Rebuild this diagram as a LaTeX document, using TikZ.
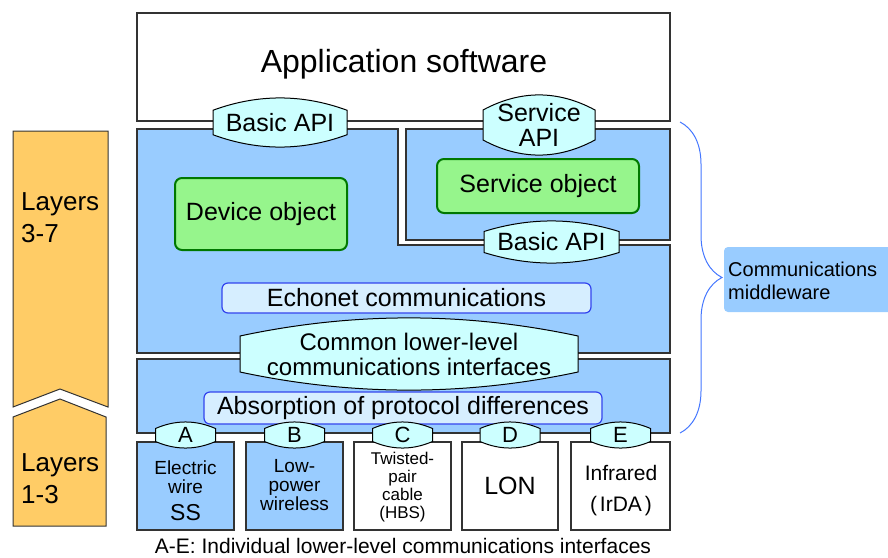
\documentclass[tikz,border=0pt]{standalone}
\usepackage{fontspec}
\setmainfont{Liberation Sans}
\usetikzlibrary{decorations.pathreplacing}
\definecolor{midblue}{RGB}{153,204,255}
\definecolor{procfill}{RGB}{214,238,255}
\definecolor{procline}{RGB}{51,68,238}
\definecolor{hexfill}{RGB}{204,255,255}
\definecolor{objfill}{RGB}{150,245,140}
\definecolor{objline}{RGB}{0,120,0}
\definecolor{layerfill}{RGB}{255,204,102}
\definecolor{bracecol}{RGB}{68,119,255}
\newcommand\apihex[7][]{%
  \filldraw [hexline] (#3-#5, #4-#6/2) .. controls (#3-#5/3, #4-#6*1.17) and (#3+#5/3, #4-#6*1.17) .. (#3+#5, #4-#6/2)
    -- (#3+#5, #4+#6/2) .. controls (#3+#5/3, #4+#6*1.17) and (#3-#5/3, #4+#6*1.17) .. (#3-#5, #4+#6/2) -- cycle;
  \node [hextext, #1] (#7) at (#3, #4) {#2};}

\begin{document}
\begin{tikzpicture}[x=1pt, y=-1pt,
    frame/.style={draw=black!80, line width=1.3pt},
    hexline/.style={draw=black, line width=1pt, fill=hexfill},
    hextext/.style={align=center, inner sep=0, font=\fontsize{25}{25}\selectfont},
    objbox/.style={draw=objline, line width=2pt, fill=objfill, rounded corners=7pt, font=\fontsize{25}{25}\selectfont},
    procbox/.style={draw=procline, line width=1.2pt, fill=procfill, rounded corners=6pt, font=\fontsize{25}{25}\selectfont},
    smalltext/.style={align=center, inner sep=0, font=\fontsize{19}{19}\selectfont},
    layerbar/.style={draw=black!80, line width=1pt, fill=layerfill},
    layertext/.style={align=left, inner sep=0, font=\fontsize{26}{32}\selectfont}]
  \useasboundingbox (0,0) rectangle (888,557);

  \filldraw [layerbar] (13,131) -- (108,131) -- (108,407) -- (60,389) -- (13,407) -- cycle;
  \filldraw [layerbar] (13,417) -- (60,399) -- (106,417) -- (106,526) -- (13,526) -- cycle;
  \node [layertext, anchor=west] (upperlayers) at (21,218) {Layers\\3-7};
  \node [layertext, anchor=west] (lowerlayers) at (21,479) {Layers\\1-3};

  \draw [frame, fill=white] (137,13) rectangle (670,121);
  \node [font=\fontsize{32}{32}\selectfont, anchor=base] (appsw) at (404,72) {Application software};

  \filldraw [frame, fill=midblue] (137,129) -- (398,129) -- (398,245) -- (670,245) -- (670,353) -- (137,353) -- cycle;
  \filldraw [frame, fill=midblue] (406,129) rectangle (670,240);
  \filldraw [frame, fill=midblue] (137,359) rectangle (670,433);

  \filldraw [frame, fill=midblue] (137,442) rectangle (234,530);
  \filldraw [frame, fill=midblue] (246,442) rectangle (343,530);
  \filldraw [frame, fill=white] (354,442) rectangle (451,530);
  \filldraw [frame, fill=white] (462,442) rectangle (558,530);
  \filldraw [frame, fill=white] (571,442) rectangle (670,530);

  \node [objbox, minimum width=172, minimum height=72] (device) at (261,214) {Device object};
  \node [objbox, minimum width=202, minimum height=54] (service) at (538,186) {Service object};
  \node [procbox, minimum width=369, minimum height=30] (echonet) at (406.5,298) {Echonet communications};
  \node [procbox, minimum width=398, minimum height=32] (absorb) at (403,408) {Absorption of protocol differences};

  \apihex{Basic API}{280}{122.5}{67}{24.5}{basicapi}
  \apihex{Service\\API}{539}{125}{56}{30}{serviceapi}
  \apihex{Basic API}{551.5}{242}{67.5}{21}{basicapilow}
  \apihex[font=\fontsize{24}{25}\selectfont]{Common lower-level\\communications interfaces}{409}{354}{169}{36}{common}

  \apihex[font=\fontsize{22}{22}\selectfont]{A}{185.5}{435}{30}{13}{ifa}
  \apihex[font=\fontsize{22}{22}\selectfont]{B}{294.5}{435}{30}{13}{ifb}
  \apihex[font=\fontsize{22}{22}\selectfont]{C}{402.5}{435}{30}{13}{ifc}
  \apihex[font=\fontsize{22}{22}\selectfont]{D}{510}{435}{30}{13}{ifd}
  \apihex[font=\fontsize{22}{22}\selectfont]{E}{620.5}{435}{30}{13}{ife}

  \node [smalltext] (wirea) at (185.5,477) {Electric\\wire};
  \node [inner sep=0, font=\fontsize{23}{23}\selectfont] (ssa) at (185.5,513) {SS};
  \node [smalltext] (wirelessb) at (294.5,485) {Low-\\power\\wireless};
  \node [smalltext, font=\fontsize{17}{18}\selectfont] (cablec) at (402.5,487) {Twisted-\\pair\\cable\\(HBS)};
  \node [inner sep=0, font=\fontsize{25}{25}\selectfont] (lond) at (510,486) {LON};
  \node [smalltext, font=\fontsize{21}{31}\selectfont] (irdae) at (621,491) {Infrared\\(\hspace{3pt}IrDA\hspace{3pt})};

  \node [font=\fontsize{21}{21}\selectfont, anchor=base] (caption) at (403,553) {A-E: Individual lower-level communications interfaces};

  \coordinate (bracetop) at (680,122);
  \coordinate (bracebot) at (680,433);
  \draw [bracecol, line width=1pt, decorate, decoration={brace, amplitude=42pt}] (bracetop) -- (bracebot);

  \fill [midblue, rounded corners=4pt] (724,247) rectangle (900,312);
  \node [align=left, inner sep=0, anchor=west, font=\fontsize{20}{23}\selectfont] (middleware) at (728,281) {Communications\\middleware};
\end{tikzpicture}
\end{document}
